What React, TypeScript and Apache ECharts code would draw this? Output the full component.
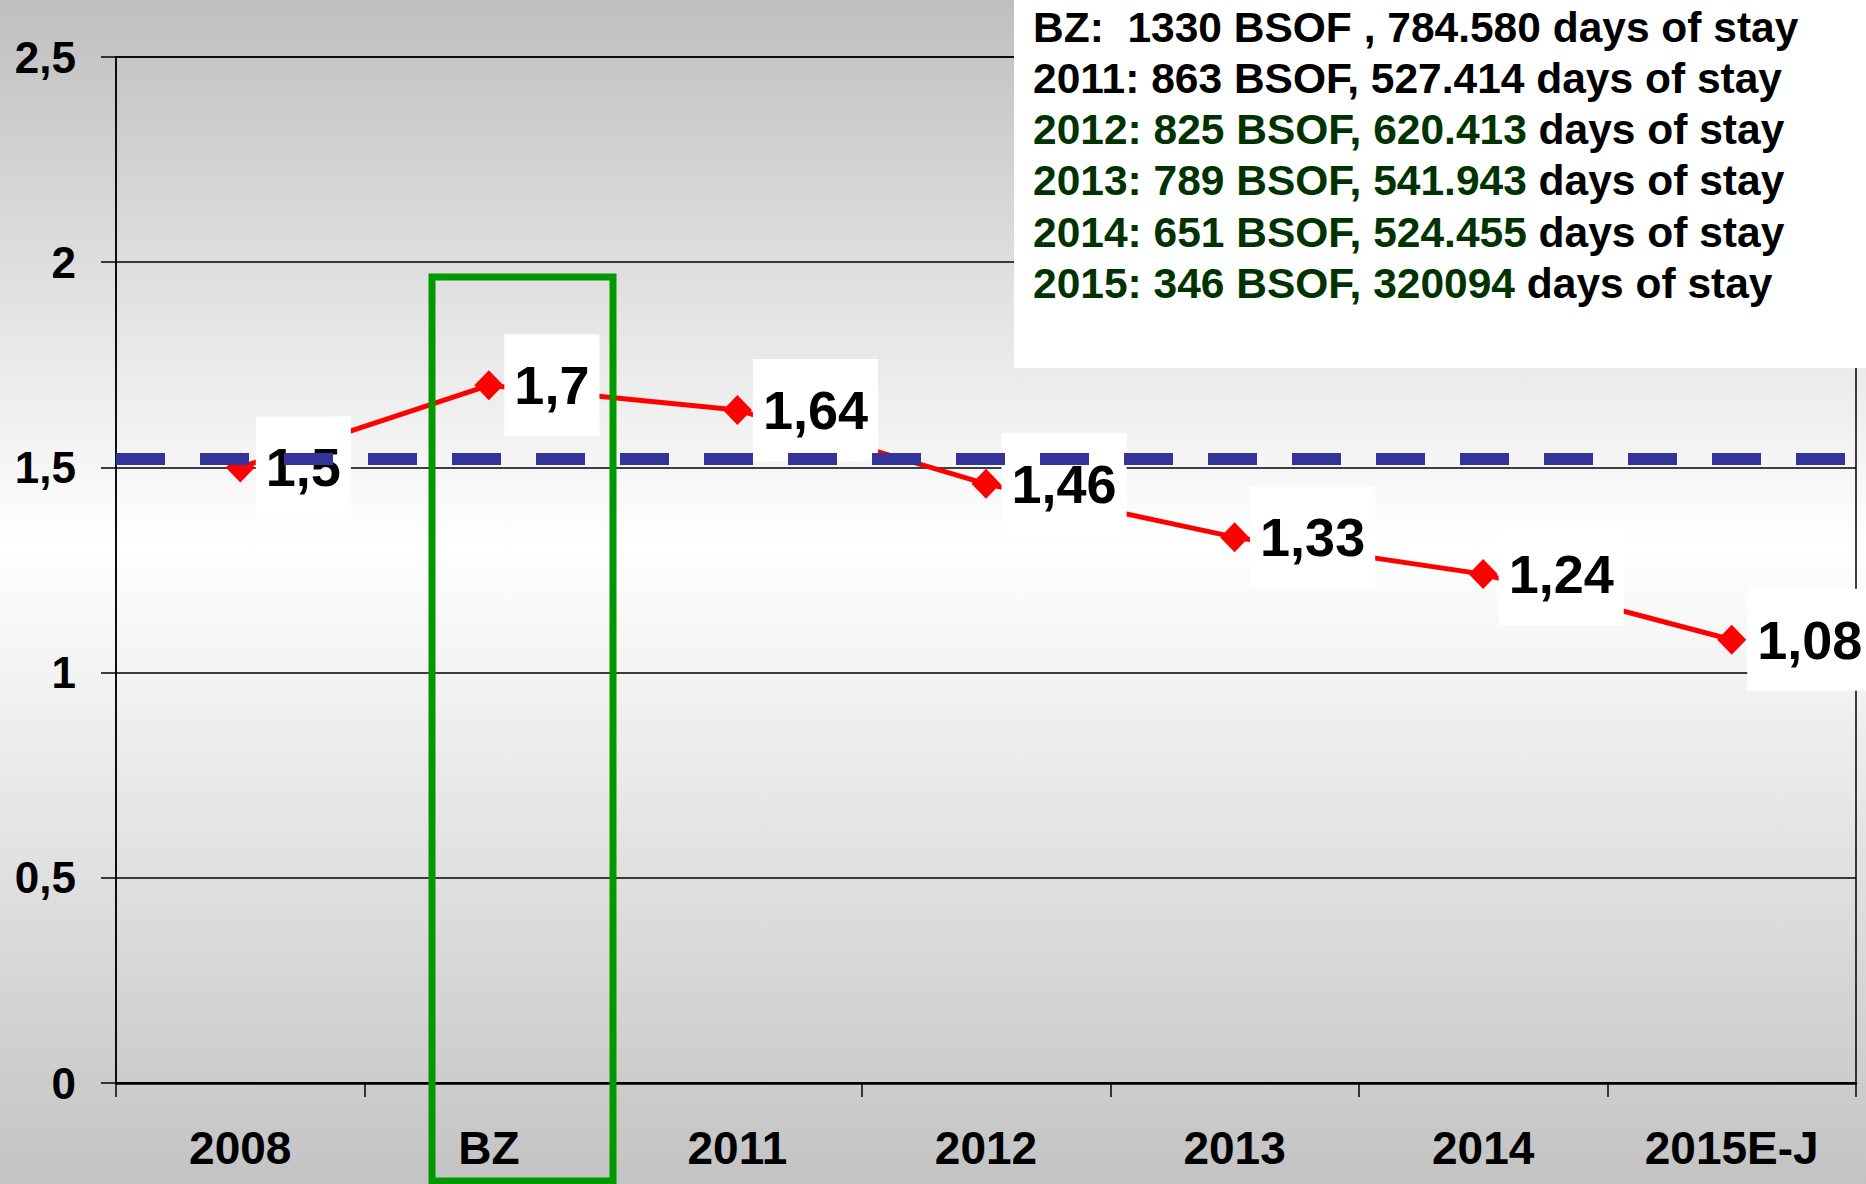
import React, { useEffect, useRef } from "react";
import * as echarts from "echarts";

const categories = ["2008", "BZ", "2011", "2012", "2013", "2014", "2015E-J"];
const ratioValues = [1.5, 1.7, 1.64, 1.46, 1.33, 1.24, 1.08];
const benchmarkValue = 1.52;
const yTicks = { min: 0, max: 2.5, interval: 0.5 };

const infoColored = [
  "",
  "",
  "2012: 825 BSOF, 620.413",
  "2013: 789 BSOF, 541.943",
  "2014: 651 BSOF, 524.455",
  "2015: 346 BSOF, 320094",
];
const infoPlain = [
  "BZ:  1330 BSOF , 784.580 days of stay",
  "2011: 863 BSOF, 527.414 days of stay",
  " days of stay",
  " days of stay",
  " days of stay",
  " days of stay",
];

const FONT = "'Liberation Sans', Arial, Helvetica, sans-serif";
const fmt = (v: number) => String(v).replace(".", ",");

export default function App() {
  const ref = useRef<HTMLDivElement>(null);
  useEffect(() => {
    if (!ref.current) return;
    const chart = echarts.init(ref.current, null, { renderer: "svg" });

    const infoTexts = infoPlain.map((plain, i) => {
      const colored = infoColored[i];
      const text = (colored ? `{g|${colored}}` : "") + `{k|${plain}}`;
      return {
        type: "text",
        left: 1033,
        top: 30.5 + i * 51.3 - 25,
        z: 101,
        style: {
          text,
          rich: {
            g: { fill: "#003300", fontSize: 42.5, fontWeight: "bold", fontFamily: FONT, lineHeight: 50 },
            k: { fill: "#000000", fontSize: 42.5, fontWeight: "bold", fontFamily: FONT, lineHeight: 50 },
          },
        },
      };
    });

    chart.setOption({
      animation: false,
      backgroundColor: {
        type: "linear",
        x: 0,
        y: 0,
        x2: 0,
        y2: 1,
        colorStops: [
          { offset: 0, color: "#bfbfbf" },
          { offset: 0.46, color: "#ffffff" },
          { offset: 1, color: "#c3c3c3" },
        ],
      },
      grid: {
        left: 116,
        right: 10,
        top: 57,
        bottom: 101,
        show: true,
        borderColor: "#000",
        borderWidth: 1.5,
        backgroundColor: "transparent",
      },
      xAxis: {
        type: "category",
        data: categories,
        boundaryGap: true,
        axisLine: { show: true, lineStyle: { color: "#000", width: 2.5 } },
        axisTick: { show: true, length: 14, lineStyle: { color: "#000", width: 1.5 } },
        axisLabel: {
          margin: 42,
          color: "#000",
          fontSize: 46,
          fontWeight: "bold",
          fontFamily: FONT,
        },
        splitLine: { show: false },
      },
      yAxis: {
        type: "value",
        min: yTicks.min,
        max: yTicks.max,
        interval: yTicks.interval,
        axisLine: { show: true, lineStyle: { color: "#000", width: 1.5 } },
        axisTick: { show: true, length: 15, lineStyle: { color: "#000", width: 1.5 } },
        axisLabel: {
          margin: 40,
          color: "#000",
          fontSize: 44,
          fontWeight: "bold",
          fontFamily: FONT,
          formatter: (v: number) => fmt(v),
        },
        splitLine: { show: true, lineStyle: { color: "#000", width: 1.5 } },
      },
      series: [
        {
          type: "line",
          data: ratioValues,
          z: 3,
          symbol: "diamond",
          symbolSize: [29, 30],
          lineStyle: { color: "#ff0000", width: 5 },
          itemStyle: { color: "#ff0000" },
          label: {
            show: true,
            position: "right",
            distance: 1,
            formatter: (p: any) => fmt(p.value),
            color: "#000",
            fontSize: 54,
            fontWeight: "bold",
            fontFamily: FONT,
            lineHeight: 56,
            backgroundColor: "#ffffff",
            padding: [23, 10, 23, 10],
          },
        },
        {
          type: "line",
          data: categories.map(() => null),
          z: 10,
          showSymbol: false,
          silent: true,
          markLine: {
            silent: true,
            symbol: "none",
            label: { show: false },
            lineStyle: { color: "#333399", width: 12, type: [49, 35] },
            data: [{ yAxis: benchmarkValue }],
          },
        },
      ],
      graphic: [
        {
          type: "rect",
          z: 100,
          shape: { x: 432, y: 277, width: 181, height: 904 },
          style: { fill: "none", stroke: "#009900", lineWidth: 7 },
        },
        {
          type: "rect",
          z: 100,
          shape: { x: 1014, y: 0, width: 852, height: 368 },
          style: { fill: "#ffffff" },
        },
        ...infoTexts,
      ],
    });
    return () => chart.dispose();
  }, []);
  return (
    <div
      ref={ref}
      style={{ position: "absolute", left: 0, top: 0, width: 1866, height: 1184 }}
    />
  );
}
